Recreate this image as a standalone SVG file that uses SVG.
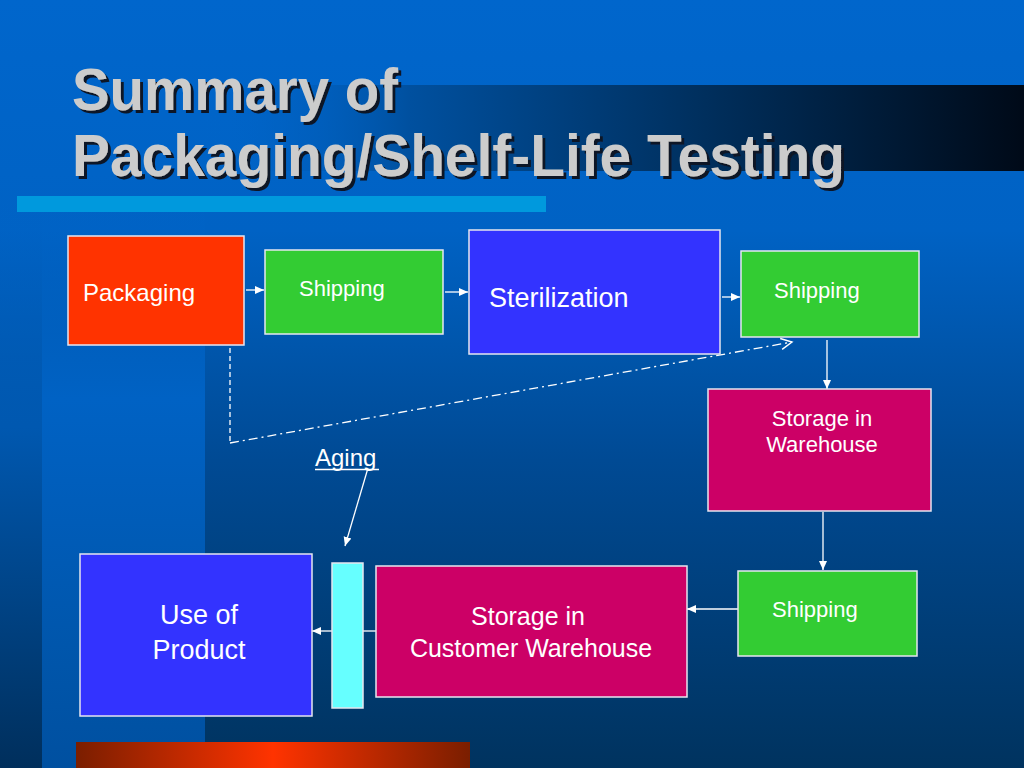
<svg xmlns="http://www.w3.org/2000/svg" width="1024" height="768" viewBox="0 0 1024 768">
<defs>
<linearGradient id="bg" x1="0" y1="0" x2="0" y2="1">
<stop offset="0" stop-color="#0066CC"/>
<stop offset="0.3" stop-color="#0062C4"/>
<stop offset="0.6" stop-color="#004A94"/>
<stop offset="1" stop-color="#00335F"/>
</linearGradient>
<linearGradient id="band" x1="0" y1="0" x2="0" y2="1">
<stop offset="0" stop-color="#0066CC" stop-opacity="0"/>
<stop offset="0.35" stop-color="#0062C4"/>
<stop offset="1" stop-color="#0050A0"/>
</linearGradient>
<linearGradient id="strip" x1="0" y1="0" x2="0" y2="1">
<stop offset="0" stop-color="#0066CC" stop-opacity="0"/>
<stop offset="0.4" stop-color="#0058B0"/>
<stop offset="1" stop-color="#002F5C"/>
</linearGradient>
<linearGradient id="titleband" x1="0" y1="0" x2="1" y2="0">
<stop offset="0" stop-color="#0066CC" stop-opacity="0"/>
<stop offset="0.25" stop-color="#00509F"/>
<stop offset="0.6" stop-color="#00305F"/>
<stop offset="1" stop-color="#000A18"/>
</linearGradient>
<linearGradient id="orange" x1="0" y1="0" x2="1" y2="0">
<stop offset="0" stop-color="#7A1E00"/>
<stop offset="0.5" stop-color="#FF3300"/>
<stop offset="1" stop-color="#7A1E00"/>
</linearGradient>
<filter id="shadow" x="-5%" y="-20%" width="110%" height="140%">
<feDropShadow dx="3" dy="3" stdDeviation="0.6" flood-color="#101828" flood-opacity="1"/>
</filter>
<marker id="ah" markerUnits="userSpaceOnUse" markerWidth="10" markerHeight="10" viewBox="0 0 10 10" refX="9" refY="5" orient="auto">
<path d="M0,1 L9,5 L0,9 Z" fill="#FFFFFF"/>
</marker>
<marker id="open" markerUnits="userSpaceOnUse" markerWidth="14" markerHeight="14" viewBox="0 0 14 14" refX="12" refY="7" orient="auto">
<path d="M1,1.5 L12,7 L1,12.5" fill="none" stroke="#FFFFFF" stroke-width="1.4"/>
</marker>
</defs>
<style>
.box{stroke:#E6E6F0;stroke-width:1.5}
.red{fill:#FF3300}
.green{fill:#33CC33}
.blue{fill:#3333FF}
.mag{fill:#CC0066}
.cyan{fill:#66FFFF}
.t{font-family:"Liberation Sans",Arial,sans-serif;fill:#FFFFFF}
.title{font-family:"Liberation Sans",Arial,sans-serif;font-weight:bold;font-size:59px;fill:#CCCCCC}
.c{stroke:#FFFFFF;stroke-width:1.3;fill:none}
</style>
<rect x="0" y="0" width="1024" height="768" fill="url(#bg)"/>
<rect x="0" y="200" width="42" height="568" fill="url(#strip)"/>
<rect x="42" y="200" width="163" height="568" fill="url(#band)"/>
<rect x="205" y="85" width="819" height="86" fill="url(#titleband)"/>
<rect x="17" y="196" width="529" height="16" fill="#0099DD"/>
<rect x="76" y="742" width="394" height="26" fill="url(#orange)"/>
<g id="title" filter="url(#shadow)">
<text class="title" x="72" y="110" textLength="326" lengthAdjust="spacingAndGlyphs">Summary of</text>
<text class="title" x="72" y="176" textLength="773" lengthAdjust="spacingAndGlyphs">Packaging/Shelf-Life Testing</text>
</g>
<g id="connectors">
<line class="c" x1="246" y1="290" x2="264" y2="290" marker-end="url(#ah)"/>
<line class="c" x1="445" y1="292" x2="468" y2="292" marker-end="url(#ah)"/>
<line class="c" x1="722" y1="297" x2="740" y2="297" marker-end="url(#ah)"/>
<line class="c" x1="827" y1="340" x2="827" y2="389" marker-end="url(#ah)"/>
<line class="c" x1="823" y1="512" x2="823" y2="570" marker-end="url(#ah)"/>
<line class="c" x1="738" y1="609" x2="687" y2="609" marker-end="url(#ah)"/>
<line class="c" x1="376" y1="631" x2="363" y2="631"/>
<line class="c" x1="332" y1="631" x2="312" y2="631" marker-end="url(#ah)"/>
<line class="c" x1="368" y1="468" x2="345" y2="546" marker-end="url(#ah)"/>
<line class="c" x1="230" y1="348" x2="230" y2="443" stroke-dasharray="5,3"/>
<line class="c" x1="230" y1="443" x2="792" y2="342" stroke-dasharray="9,4,2,4" marker-end="url(#open)"/>
</g>
<g id="packaging">
<rect class="box red" x="68" y="236" width="176" height="109"/>
<text class="t" x="83" y="301" font-size="24">Packaging</text>
</g>
<g id="shipping1">
<rect class="box green" x="265" y="250" width="178" height="84"/>
<text class="t" x="299" y="296" font-size="22">Shipping</text>
</g>
<g id="sterilization">
<rect class="box blue" x="469" y="230" width="251" height="124"/>
<text class="t" x="489" y="307" font-size="27">Sterilization</text>
</g>
<g id="shipping2">
<rect class="box green" x="741" y="251" width="178" height="86"/>
<text class="t" x="774" y="298" font-size="22">Shipping</text>
</g>
<g id="storage-warehouse">
<rect class="box mag" x="708" y="389" width="223" height="122"/>
<text class="t" x="822" y="426" font-size="22" text-anchor="middle">Storage in</text>
<text class="t" x="822" y="452" font-size="22" text-anchor="middle">Warehouse</text>
</g>
<g id="shipping3">
<rect class="box green" x="738" y="571" width="179" height="85"/>
<text class="t" x="772" y="617" font-size="22">Shipping</text>
</g>
<g id="storage-customer">
<rect class="box mag" x="376" y="566" width="311" height="131"/>
<text class="t" x="528" y="625" font-size="25" text-anchor="middle">Storage in</text>
<text class="t" x="531" y="657" font-size="25" text-anchor="middle">Customer Warehouse</text>
</g>
<g id="aging-bar">
<rect class="box cyan" x="332" y="563" width="31" height="145"/>
</g>
<g id="use-of-product">
<rect class="box blue" x="80" y="554" width="232" height="162"/>
<text class="t" x="199" y="624" font-size="27" text-anchor="middle">Use of</text>
<text class="t" x="199" y="659" font-size="27" text-anchor="middle">Product</text>
</g>
<g id="aging-label">
<text class="t" x="315" y="466" font-size="24">Aging</text>
<line x1="315" y1="469.5" x2="379" y2="469.5" stroke="#FFFFFF" stroke-width="1.5"/>
</g>
</svg>
